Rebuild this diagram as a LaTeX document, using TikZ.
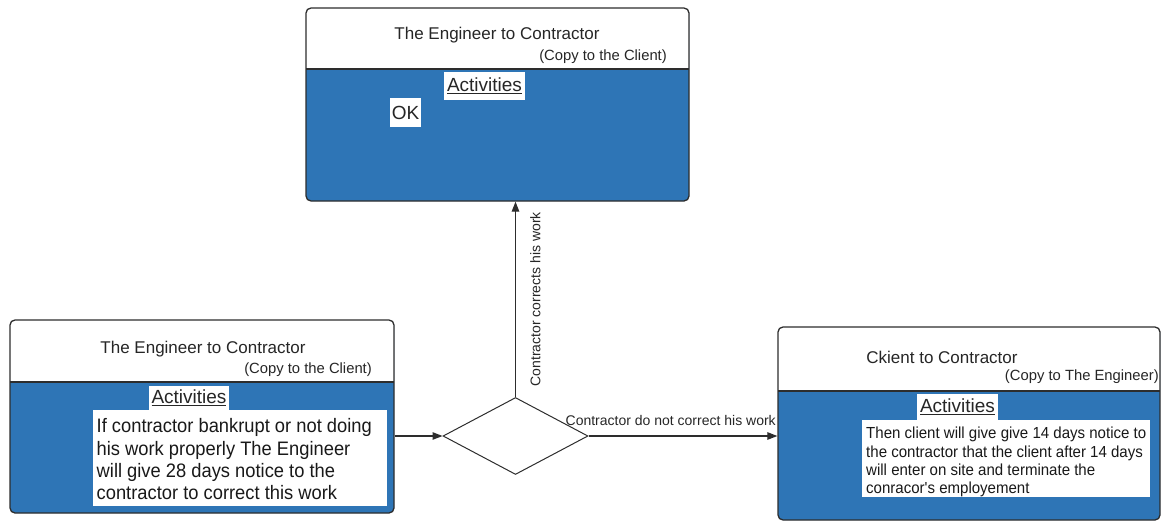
\documentclass[tikz,border=0pt]{standalone}
\usepackage{fontspec}
\setmainfont{Liberation Sans}
\newfontfamily\notefont[FakeStretch=0.94]{Liberation Sans}
\usetikzlibrary{shapes.geometric,arrows.meta}
\definecolor{bodyblue}{RGB}{46,117,182}
\definecolor{edge}{RGB}{45,45,45}

\begin{document}
\begin{tikzpicture}[x=1pt,y=-1pt,
  % rounded panel: white header band over a blue body
  panel/.style={draw=edge, line width=1.3pt, fill=bodyblue, rounded corners=5pt,
    inner sep=0pt,
    path picture={
      \fill[white, sharp corners] (path picture bounding box.north west)
        rectangle ([yshift=-#1]path picture bounding box.north east);
      \draw[edge, line width=1.3pt, sharp corners]
        ([yshift=-#1]path picture bounding box.north west)
        -- ([yshift=-#1]path picture bounding box.north east);
    }},
  paneltitle/.style={font=\fontsize{17pt}{19pt}\selectfont, inner sep=0pt, text=black!85},
  copyline/.style={font=\fontsize{14.8pt}{16pt}\selectfont, inner sep=0pt, anchor=east, text=black!85},
  actlabel/.style={fill=white, font=\fontsize{19pt}{22pt}\selectfont, inner xsep=3pt,
    inner ysep=0pt, minimum height=27pt, text=black!85},
  notefill/.style={fill=white, inner sep=0pt, anchor=north west},
  notetext/.style={align=left, anchor=north west, inner sep=0pt, text=black!90},
  decision/.style={diamond, draw=edge, line width=1pt, fill=white, inner sep=0pt,
    minimum width=145pt, minimum height=77pt},
  flow/.style={draw=edge, line width=1.2pt, -{Triangle[length=10pt,width=7.5pt]}},
  flowlabel/.style={font=\fontsize{14pt}{16pt}\selectfont, inner sep=0pt, text=black!85}
]
\useasboundingbox (0,0) rectangle (1165,522);

% ---- upper panel: outcome when the work is corrected
\node[panel=61pt, minimum width=383pt, minimum height=193pt] (tb) at (497.5,104.5) {};
\node[paneltitle] (tbtitle) at (497,35) {The Engineer to Contractor};
\node[copyline] (tbcopy) at (667,57) {(Copy to the Client)};
\node[actlabel, minimum height=28pt] (tbact) at (484.5,86) {\underline{Activities}};
\node[actlabel, minimum height=29pt, inner xsep=2pt] (tbok) at (405.5,112.5) {OK};

% ---- left panel: notice to the contractor
\node[panel=62pt, minimum width=384pt, minimum height=193pt] (lb) at (202,416.5) {};
\node[paneltitle] (lbtitle) at (203,349) {The Engineer to Contractor};
\node[copyline] (lbcopy) at (372,370) {(Copy to the Client)};
\node[actlabel, minimum height=24pt] (lbact) at (189,398) {\underline{Activities}};
\node[notefill, minimum width=294pt, minimum height=96pt] (lbnote) at (93,410) {};
\node[notetext, font=\notefont\fontsize{19.5pt}{22.3pt}\selectfont]
  (lbtext) at ([xshift=3.5pt,yshift=-8.5pt]lbnote.north west)
  {If contractor bankrupt or not doing\\
   his work properly The Engineer\\
   will give 28 days notice to the\\
   contractor to correct this work};

% ---- right panel: termination by the client
\node[panel=64pt, minimum width=382pt, minimum height=193pt] (rb) at (969,423.5) {};
\node[paneltitle] (rbtitle) at (942,357) {Ckient to Contractor};
\node[copyline] (rbcopy) at (1159,377) {(Copy to The Engineer)};
\node[actlabel, minimum height=26pt] (rbact) at (957.5,406.5) {\underline{Activities}};
\node[notefill, minimum width=288pt, minimum height=77pt] (rbnote) at (862,420) {};
\node[notetext, font=\notefont\fontsize{16pt}{18.3pt}\selectfont]
  (rbtext) at ([xshift=4pt,yshift=-7pt]rbnote.north west)
  {Then client will give give 14 days notice to\\
   the contractor that the client after 14 days\\
   will enter on site and terminate the\\
   conracor's employement};

% ---- decision
\node[decision] (dia) at (515.5,436) {};

% ---- connectors
\draw[flow] (lb.east |- dia.west) -- (dia.west);
\draw[flow] (dia.north) -- (dia.north |- tb.south)
  node[midway, sloped, below=14pt, flowlabel] {Contractor corrects his work};
\draw[flow] (dia.east) -- (dia.east -| rb.west)
  node[pos=1, anchor=south east, flowlabel, yshift=10pt, xshift=-1pt] {Contractor do not correct his work};
\end{tikzpicture}
\end{document}
